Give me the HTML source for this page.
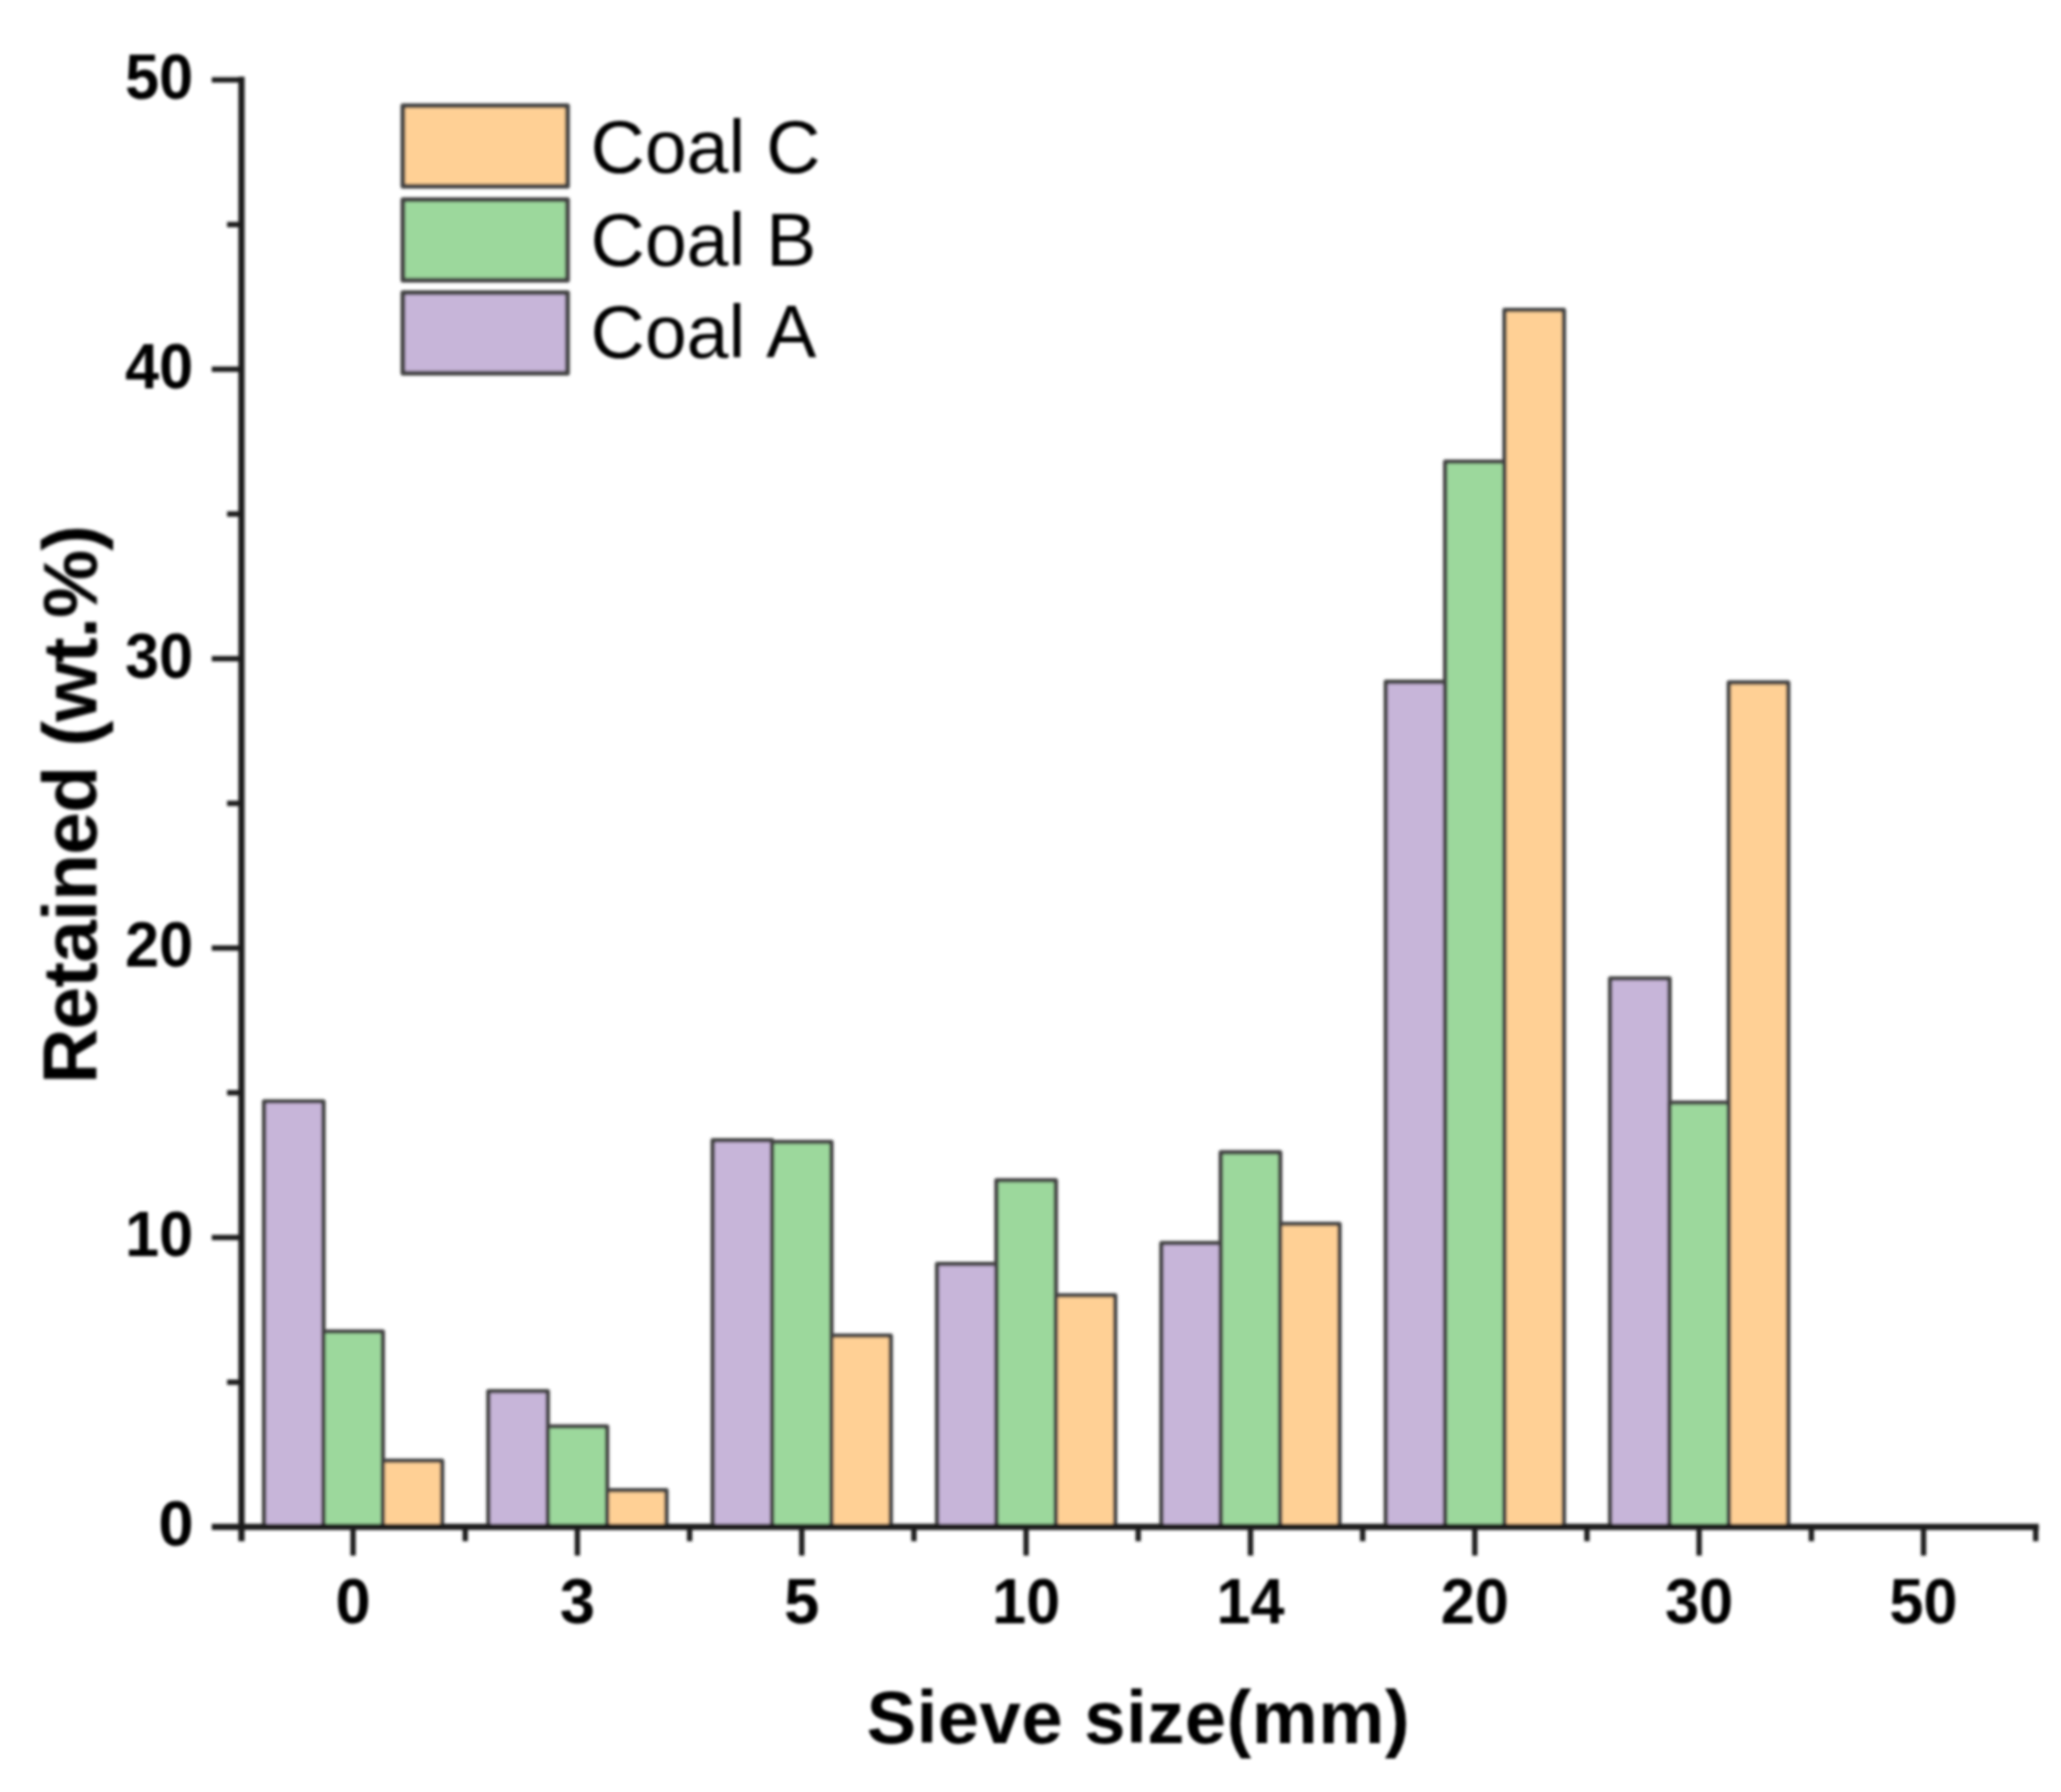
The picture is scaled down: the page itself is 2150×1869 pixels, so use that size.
<!DOCTYPE html>
<html lang="en"><head><meta charset="utf-8"><title>Sieve size distribution</title>
<style>html,body{margin:0;padding:0;background:#fff}body{width:2150px;height:1869px;overflow:hidden}svg{display:block}
text{font-kerning:none;font-family:"Liberation Sans",Arial,Helvetica,sans-serif;fill:#000}
.tk{font-size:66px;font-weight:bold}.ti{font-size:77.5px;font-weight:bold;letter-spacing:0.5px}.ty{font-size:80px;font-weight:bold;letter-spacing:-0.9px}.lg{font-size:78.5px}
</style></head><body>
<svg width="2150" height="1869" viewBox="0 0 2150 1869">
<defs><filter id="soft" x="0" y="0" width="2150" height="1869" filterUnits="userSpaceOnUse"><feGaussianBlur stdDeviation="1.4"/></filter></defs>
<rect width="2150" height="1869" fill="#fff"/>
<g filter="url(#soft)">
<g stroke="#444444" stroke-width="4.6" stroke-linejoin="round">
<rect x="275.5" y="1148.8" width="61.9" height="443.7" fill="#C7B5D9"/>
<rect x="337.4" y="1388.8" width="61.9" height="203.7" fill="#9CD89C"/>
<rect x="399.3" y="1523.5" width="61.9" height="69.0" fill="#FFD095"/>
<rect x="509.5" y="1451.0" width="61.9" height="141.5" fill="#C7B5D9"/>
<rect x="571.4" y="1487.8" width="61.9" height="104.7" fill="#9CD89C"/>
<rect x="633.3" y="1554.2" width="61.9" height="38.3" fill="#FFD095"/>
<rect x="743.5" y="1189.2" width="61.9" height="403.3" fill="#C7B5D9"/>
<rect x="805.4" y="1191.0" width="61.9" height="401.5" fill="#9CD89C"/>
<rect x="867.3" y="1393.0" width="61.9" height="199.5" fill="#FFD095"/>
<rect x="977.6" y="1318.3" width="61.9" height="274.2" fill="#C7B5D9"/>
<rect x="1039.5" y="1231.0" width="61.9" height="361.5" fill="#9CD89C"/>
<rect x="1101.4" y="1351.0" width="61.9" height="241.5" fill="#FFD095"/>
<rect x="1211.6" y="1296.5" width="61.9" height="296.0" fill="#C7B5D9"/>
<rect x="1273.5" y="1201.9" width="61.9" height="390.6" fill="#9CD89C"/>
<rect x="1335.4" y="1276.5" width="61.9" height="316.0" fill="#FFD095"/>
<rect x="1445.7" y="711.1" width="61.9" height="881.4" fill="#C7B5D9"/>
<rect x="1507.6" y="481.5" width="61.9" height="1111.0" fill="#9CD89C"/>
<rect x="1569.5" y="323.2" width="61.9" height="1269.3" fill="#FFD095"/>
<rect x="1679.7" y="1020.5" width="61.9" height="572.0" fill="#C7B5D9"/>
<rect x="1741.6" y="1150.0" width="61.9" height="442.5" fill="#9CD89C"/>
<rect x="1803.5" y="711.9" width="61.9" height="880.6" fill="#FFD095"/>
</g>
<g stroke="#1e1e1e" stroke-width="6.5" fill="none" stroke-linecap="butt">
<path d="M251.9 80.0 V1607.5"/>
<path d="M220.9 1592.5 H2126.8"/>
<path stroke-width="5.6" d="M236.9 1441.6 H251.9"/>
<path stroke-width="5.6" d="M220.9 1290.7 H251.9"/>
<path stroke-width="5.6" d="M236.9 1139.7 H251.9"/>
<path stroke-width="5.6" d="M220.9 988.8 H251.9"/>
<path stroke-width="5.6" d="M236.9 837.9 H251.9"/>
<path stroke-width="5.6" d="M220.9 687.0 H251.9"/>
<path stroke-width="5.6" d="M236.9 536.1 H251.9"/>
<path stroke-width="5.6" d="M220.9 385.1 H251.9"/>
<path stroke-width="5.6" d="M236.9 234.2 H251.9"/>
<path stroke-width="5.6" d="M220.9 83.3 H251.9"/>
<path stroke-width="5.6" d="M368.3 1592.5 V1622.5"/>
<path stroke-width="5.6" d="M485.3 1592.5 V1607.5"/>
<path stroke-width="5.6" d="M602.3 1592.5 V1622.5"/>
<path stroke-width="5.6" d="M719.4 1592.5 V1607.5"/>
<path stroke-width="5.6" d="M836.4 1592.5 V1622.5"/>
<path stroke-width="5.6" d="M953.4 1592.5 V1607.5"/>
<path stroke-width="5.6" d="M1070.4 1592.5 V1622.5"/>
<path stroke-width="5.6" d="M1187.4 1592.5 V1607.5"/>
<path stroke-width="5.6" d="M1304.5 1592.5 V1622.5"/>
<path stroke-width="5.6" d="M1421.5 1592.5 V1607.5"/>
<path stroke-width="5.6" d="M1538.5 1592.5 V1622.5"/>
<path stroke-width="5.6" d="M1655.5 1592.5 V1607.5"/>
<path stroke-width="5.6" d="M1772.5 1592.5 V1622.5"/>
<path stroke-width="5.6" d="M1889.6 1592.5 V1607.5"/>
<path stroke-width="5.6" d="M2006.6 1592.5 V1622.5"/>
<path stroke-width="5.6" d="M2123.6 1592.5 V1607.5"/>
</g>
<g class="tk" text-anchor="end">
<text x="202.0" y="1612.0">0</text>
<text x="201.5" y="1310.2" textLength="71" lengthAdjust="spacingAndGlyphs">10</text>
<text x="201.5" y="1008.3" textLength="71" lengthAdjust="spacingAndGlyphs">20</text>
<text x="201.5" y="706.5" textLength="71" lengthAdjust="spacingAndGlyphs">30</text>
<text x="201.5" y="404.6" textLength="71" lengthAdjust="spacingAndGlyphs">40</text>
<text x="201.5" y="102.8" textLength="71" lengthAdjust="spacingAndGlyphs">50</text>
</g>
<g class="tk" text-anchor="middle">
<text x="368.3" y="1692.5">0</text>
<text x="602.3" y="1692.5">3</text>
<text x="836.4" y="1692.5">5</text>
<text x="1070.4" y="1692.5" textLength="71" lengthAdjust="spacingAndGlyphs">10</text>
<text x="1304.5" y="1692.5" textLength="71" lengthAdjust="spacingAndGlyphs">14</text>
<text x="1538.5" y="1692.5" textLength="71" lengthAdjust="spacingAndGlyphs">20</text>
<text x="1772.5" y="1692.5" textLength="71" lengthAdjust="spacingAndGlyphs">30</text>
<text x="2006.6" y="1692.5" textLength="71" lengthAdjust="spacingAndGlyphs">50</text>
</g>
<text class="ti" text-anchor="middle" x="1187.5" y="1817.5">Sieve size(mm)</text>
<text class="ty" text-anchor="middle" transform="translate(100.5 839.5) rotate(-90)">Retained (wt.%)</text>
<g stroke="#444444" stroke-width="5" stroke-linejoin="round">
<rect x="420.3" y="110.3" width="171.7" height="84" fill="#FFD095"/>
<rect x="420.3" y="208.2" width="171.7" height="84" fill="#9CD89C"/>
<rect x="420.3" y="305.2" width="171.7" height="84" fill="#C7B5D9"/>
</g>
<g class="lg">
<text x="616" y="180.0">Coal C</text>
<text x="616" y="276.5">Coal B</text>
<text x="616" y="373.0">Coal A</text>
</g>
</g>
</svg></body></html>
